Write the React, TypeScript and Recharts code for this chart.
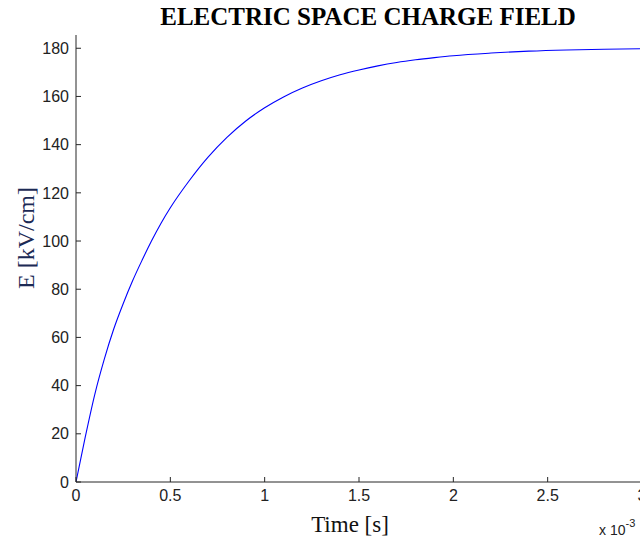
import { LineChart, Line, XAxis, YAxis } from "recharts";

// time in units of 1e-3 s
const times = [
  0, 0.05, 0.1, 0.15, 0.2, 0.25, 0.3, 0.35, 0.4, 0.45, 0.5, 0.6, 0.7, 0.8, 0.9,
  1.0, 1.1, 1.2, 1.3, 1.4, 1.5, 1.6, 1.7, 1.8, 1.9, 2.0, 2.2, 2.4, 2.6, 2.8, 3.0,
];
// electric field, kV/cm
const field = [
  0, 19, 36.5, 51, 63.5, 74, 83.5, 92, 100, 107.3, 113.8, 125, 134.8, 143, 149.8,
  155.3, 159.8, 163.5, 166.5, 169, 171, 172.7, 174.1, 175.2, 176.1, 176.9, 178,
  178.8, 179.3, 179.6, 179.8,
];
const xTicks = [0, 0.5, 1, 1.5, 2, 2.5, 3];
const yTicks = [0, 20, 40, 60, 80, 100, 120, 140, 160, 180];

const data = times.map((t, i) => ({ t, E: field[i] }));

const sans = "'Liberation Sans', Arial, sans-serif";
const serif = "'Liberation Serif', 'Times New Roman', serif";
const tickFont = { fontFamily: sans, fontSize: 16, fill: "#222" };

export default function App() {
  return (
    <div
      style={{
        position: "absolute",
        left: 0,
        top: 0,
        width: 640,
        height: 539,
        overflow: "hidden",
        background: "#fff",
      }}
    >
      <LineChart
        width={660}
        height={539}
        data={data}
        margin={{ top: 35, right: 18, bottom: 27, left: 0 }}
      >
        <XAxis
          dataKey="t"
          type="number"
          domain={[0, 3]}
          ticks={xTicks}
          allowDataOverflow
          height={30}
          tickSize={-5}
          tickMargin={13}
          stroke="#262626"
          tick={tickFont}
        />
        <YAxis
          type="number"
          domain={[0, 185.5]}
          ticks={yTicks}
          allowDataOverflow
          width={76}
          tickSize={-5}
          tickMargin={12}
          stroke="#262626"
          tick={tickFont}
        />
        <Line
          dataKey="E"
          type="monotone"
          stroke="#0000ff"
          strokeWidth={1.1}
          dot={false}
          isAnimationActive={false}
        />
      </LineChart>
      <svg
        width={640}
        height={539}
        style={{ position: "absolute", left: 0, top: 0, pointerEvents: "none" }}
      >
        <text x={368} y={25} textAnchor="middle" fontFamily={serif} fontWeight="bold" fontSize={25} fill="#000">
          ELECTRIC SPACE CHARGE FIELD
        </text>
        <text
          x={0}
          y={0}
          transform="translate(34 238) rotate(-90)"
          textAnchor="middle"
          fontFamily={serif}
          fontSize={24}
          fill="#1c2a55"
        >
          E [kV/cm]
        </text>
        <text x={350} y={532} textAnchor="middle" fontFamily={serif} fontSize={23} fill="#111">
          Time [s]
        </text>
        <text x={599} y={535} fontFamily={sans} fontSize={14} fill="#222">
          x 10
          <tspan dy={-8} fontSize={11}>-3</tspan>
        </text>
      </svg>
    </div>
  );
}
